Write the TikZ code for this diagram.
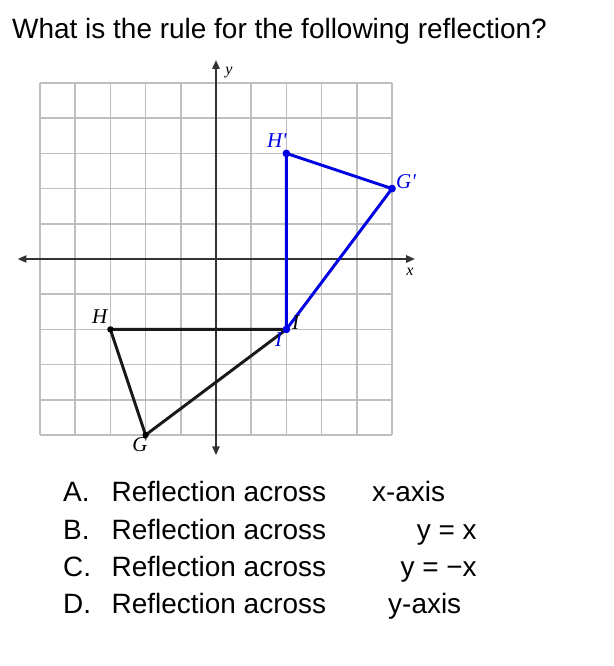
\documentclass[tikz,border=0pt]{standalone}
\usepackage{fontspec}
\setmainfont{Liberation Sans}
\newfontfamily\labelfont{Liberation Serif}
\usepackage{tikz}
\usetikzlibrary{arrows.meta}
\usetikzlibrary{positioning}

\tikzset{
    gridline/.style={line width=1.2pt, draw=black!25},
    axisline/.style={line width=1pt, draw=black!80, {Triangle[length=7pt,width=6pt]}-{Triangle[length=7pt,width=6pt]}},
    preimage/.style={line width=2.4pt, draw=black!90, line join=round},
    image/.style={line width=2.4pt, draw=blue!90!black, line join=round},
    vertexlabel/.style={font=\labelfont\itshape\fontsize{17}{19}\selectfont, inner sep=0pt},
    question/.style={font=\fontsize{22.6}{27}\selectfont, inner sep=0pt, anchor=base west}
}

\begin{document}
\begin{tikzpicture}
    \useasboundingbox (-6.136,-11.563) rectangle (11.307,7.358);

    \node[question] (title) at (-5.795, 6.278) {What is the rule for the following reflection?};

    % grid
    \draw[gridline] (-5,-5) grid (5,5);
    \draw[axisline] (-5.63,0) -- (5.65,0);
    \draw[axisline] (0,-5.57) -- (0,5.65);
    \node[vertexlabel, font=\labelfont\itshape\fontsize{13}{15}\selectfont] (ylabel) at (0.37, 5.31) {y};
    \node[vertexlabel, font=\labelfont\itshape\fontsize{13}{15}\selectfont] (xlabel) at (5.51,-0.37) {x};

    % original triangle
    \coordinate (H) at (-3,-2);
    \coordinate (G) at (-2,-5);
    \coordinate (I) at (2,-2);
    \draw[preimage] (H) -- (I) -- (G) -- cycle;
    \foreach \p in {H,G} {
        \fill[black] (\p) circle (0.09);
    }

    % reflected triangle
    \coordinate (Hp) at (2,3);
    \coordinate (Gp) at (5,2);
    \draw[image] (Hp) -- (Gp) -- (I) -- cycle;
    \foreach \p in {Hp,Gp,I} {
        \fill[blue!90!black] (\p) circle (0.11);
    }

    \node[vertexlabel] (Hlabel) at (-3.30,-1.65) {H};
    \node[vertexlabel] (Glabel) at (-2.16,-5.28) {G};
    \node[vertexlabel] (Ilabel) at (2.26,-1.82) {I};
    \node[vertexlabel, text=blue!90!black] (Iplabel) at (1.78,-2.30) {I};
    \node[vertexlabel, text=blue!90!black] (Hplabel) at (1.73,3.35) {H'};
    \node[vertexlabel, text=blue!90!black] (Gplabel) at (5.40,2.19) {G'};

    % answer choices
    \node[question] (optA) at (-4.347,-6.903) {A.};
    \node[question] (optB) at (-4.347,-7.963) {B.};
    \node[question] (optC) at (-4.347,-9.025) {C.};
    \node[question] (optD) at (-4.347,-10.085) {D.};
    \node[question] (textA) at (-2.97,-6.903) {Reflection across};
    \node[question] (textB) at (-2.97,-7.963) {Reflection across};
    \node[question] (textC) at (-2.97,-9.025) {Reflection across};
    \node[question] (textD) at (-2.97,-10.085) {Reflection across};
    \node[question] (ruleA) at (4.43,-6.903) {x-axis};
    \node[question, anchor=base east] (ruleB) at (7.415,-7.963) {y = x};
    \node[question, anchor=base east] (ruleC) at (7.415,-9.025) {y = −x};
    \node[question] (ruleD) at (4.886,-10.085) {y-axis};
\end{tikzpicture}
\end{document}
